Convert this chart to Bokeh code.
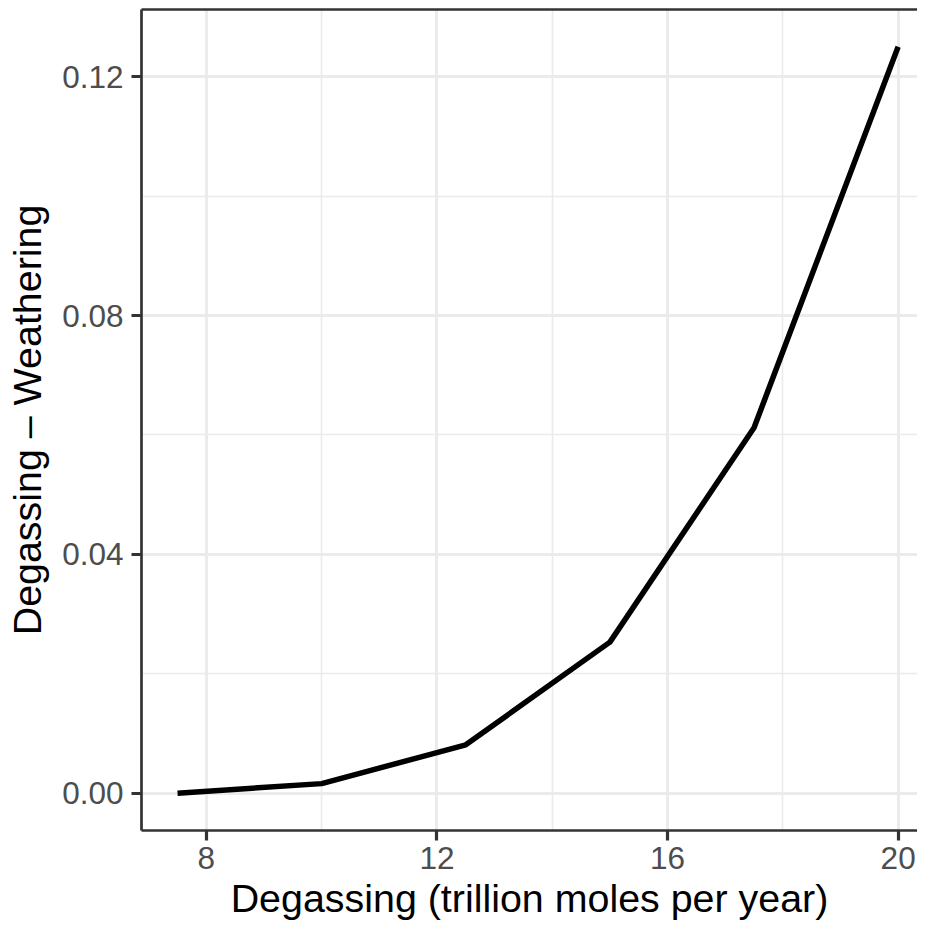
from bokeh.plotting import figure
from bokeh.models import FixedTicker, LinearAxis, PrintfTickFormatter, Range1d
from bokeh.embed import file_html
from bokeh.resources import INLINE

# Data
degassing = [7.5, 10.0, 12.5, 15.0, 17.5, 20.0]
difference = [0.0, 0.0016, 0.0081, 0.0253, 0.0612, 0.1250]

x_ticks = [8, 12, 16, 20]
x_minor = [10, 14, 18]
y_ticks = [0.0, 0.04, 0.08, 0.12]
y_minor = [0.02, 0.06, 0.10]

x_title = "Degassing (trillion moles per year)"
y_title = "Degassing – Weathering"

FONT = "Liberation Sans"
DARK = "#333333"
GRID = "#EBEBEB"

p = figure(width=917, height=922, output_backend="svg", toolbar_location=None,
           x_range=Range1d(6.875, 20.336), y_range=Range1d(-0.00625, 0.13125),
           min_border_left=141, min_border_right=0, min_border_top=9, min_border_bottom=90,
           x_axis_label=x_title, y_axis_label=y_title)
p.outline_line_color = None
p.outline_line_alpha = 0
p.background_fill_color = "white"
p.border_fill_color = "white"

p.xaxis.ticker = FixedTicker(ticks=x_ticks, minor_ticks=x_minor)
p.yaxis.ticker = FixedTicker(ticks=y_ticks, minor_ticks=y_minor)
p.yaxis.formatter = PrintfTickFormatter(format="%.2f")

for ax in (p.xaxis, p.yaxis):
    ax.axis_line_color = DARK
    ax.axis_line_width = 2.7
    ax.major_tick_line_color = DARK
    ax.major_tick_line_width = 3.2
    ax.major_tick_out = 10
    ax.major_tick_in = 0
    ax.minor_tick_out = 0
    ax.minor_tick_in = 0
    ax.major_label_text_font = FONT
    ax.major_label_text_font_size = "31.5px"
    ax.major_label_text_color = "#4D4D4D"
    ax.axis_label_text_font = FONT
    ax.axis_label_text_font_size = "39.4px"
    ax.axis_label_text_font_style = "normal"
    ax.axis_label_text_color = "black"

p.xaxis.major_label_standoff = 6
p.xaxis.axis_label_standoff = 4
p.yaxis.major_label_standoff = 8
p.yaxis.axis_label_standoff = 10

for g in (p.xgrid, p.ygrid):
    g.grid_line_color = GRID
    g.grid_line_width = 3
    g.minor_grid_line_color = GRID
    g.minor_grid_line_width = 1.6

top = LinearAxis(ticker=FixedTicker(ticks=[]), major_tick_out=0, major_tick_in=0,
                 minor_tick_out=0, minor_tick_in=0, major_label_text_font_size="0px",
                 axis_line_color=DARK, axis_line_width=2.7)
p.add_layout(top, "above")

p.line(degassing, difference, line_width=5.5, line_color="black", line_join="round")

open("out.html", "w").write(file_html(p, INLINE))
